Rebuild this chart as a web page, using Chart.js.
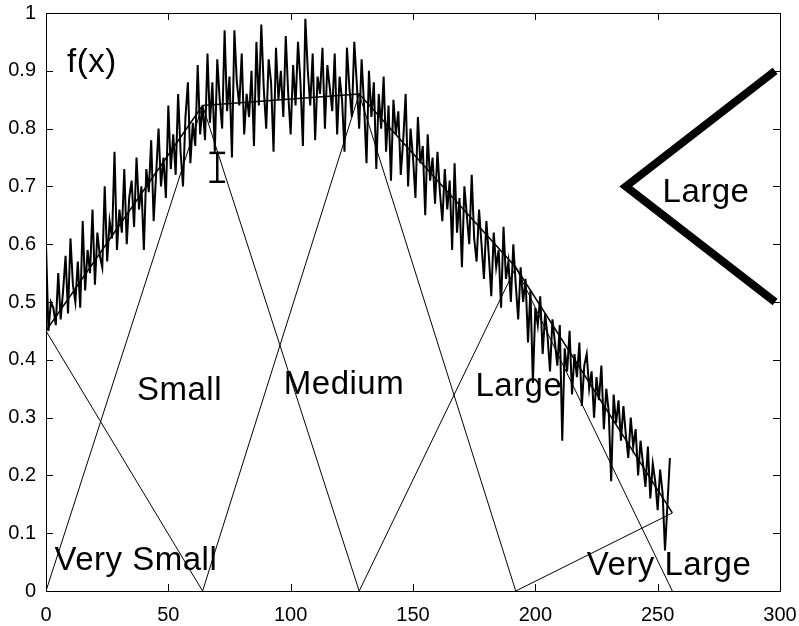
<!DOCTYPE html>
<html lang="en">
<head>
    <meta charset="UTF-8">
    <title>f(x) fuzzy approximation</title>
    <script src="https://cdn.jsdelivr.net/npm/chart.js@4.4.0/dist/chart.umd.min.js"></script>
    <style>
        body { margin: 0; background: #fff; }
        #wrap { width: 799px; height: 626px; }
    </style>
</head>
<body>
    <div id="wrap"><canvas id="fx" width="799" height="626"></canvas></div>

    <script>
        // noisy samples f(x), x = 0..255
        const noiseY = [
            0.60, 0.45, 0.50, 0.49, 0.46, 0.55, 0.47, 0.52, 0.58, 0.48, 0.61, 0.53, 0.50, 0.57, 0.49, 0.64,
            0.52, 0.59, 0.55, 0.66, 0.53, 0.62, 0.58, 0.56, 0.70, 0.57, 0.64, 0.61, 0.76, 0.59, 0.66, 0.62,
            0.73, 0.60, 0.68, 0.71, 0.63, 0.75, 0.66, 0.70, 0.59, 0.73, 0.69, 0.78, 0.64, 0.72, 0.80, 0.70,
            0.75, 0.68, 0.84, 0.73, 0.79, 0.72, 0.86, 0.76, 0.70, 0.82, 0.88, 0.74, 0.81, 0.77, 0.91, 0.79,
            0.84, 0.78, 0.93, 0.81, 0.88, 0.76, 0.92, 0.85, 0.80, 0.97, 0.83, 0.89, 0.75, 0.97, 0.88, 0.84,
            0.93, 0.79, 0.86, 0.82, 0.90, 0.77, 0.95, 0.84, 0.98, 0.87, 0.80, 0.92, 0.88, 0.76, 0.94, 0.85,
            0.90, 0.82, 0.96, 0.86, 0.79, 0.91, 0.84, 0.95, 0.88, 0.77, 0.99, 0.90, 0.84, 0.93, 0.78, 0.89,
            0.86, 0.94, 0.80, 0.91, 0.87, 0.83, 0.93, 0.79, 0.89, 0.85, 0.76, 0.94, 0.87, 0.82, 0.95, 0.88,
            0.80, 0.92, 0.84, 0.74, 0.90, 0.82, 0.88, 0.73, 0.86, 0.80, 0.89, 0.76, 0.84, 0.71, 0.85, 0.79,
            0.83, 0.72, 0.78, 0.86, 0.70, 0.80, 0.75, 0.68, 0.82, 0.74, 0.77, 0.65, 0.79, 0.71, 0.75, 0.67,
            0.76, 0.69, 0.64, 0.73, 0.66, 0.71, 0.59, 0.74, 0.62, 0.68, 0.56, 0.70, 0.65, 0.60, 0.72, 0.61,
            0.57, 0.66, 0.60, 0.54, 0.64, 0.58, 0.51, 0.62, 0.56, 0.59, 0.49, 0.63, 0.54, 0.57, 0.50, 0.60,
            0.53, 0.47, 0.56, 0.50, 0.54, 0.43, 0.52, 0.36, 0.49, 0.46, 0.51, 0.41, 0.48, 0.44, 0.38, 0.47,
            0.43, 0.39, 0.46, 0.26, 0.42, 0.38, 0.45, 0.34, 0.41, 0.37, 0.43, 0.32, 0.39, 0.41, 0.35, 0.38,
            0.30, 0.37, 0.33, 0.39, 0.28, 0.35, 0.31, 0.19, 0.34, 0.29, 0.33, 0.26, 0.32, 0.27, 0.23, 0.30,
            0.25, 0.28, 0.20, 0.26, 0.22, 0.18, 0.25, 0.16, 0.22, 0.19, 0.14, 0.21, 0.17, 0.07, 0.15, 0.23
        ];

        // membership triangles (scaled)
        const verySmallX = [0, 64],          verySmallY = [0.45, 0];
        const smallX     = [0, 64, 128],     smallY     = [0, 0.84, 0];
        const mediumX    = [64, 128, 192],   mediumY    = [0, 0.86, 0];
        const largeX     = [128, 192, 256],  largeY     = [0, 0.56, 0];
        const veryLargeX = [192, 256],       veryLargeY = [0, 0.135];

        // piecewise approximation through the peaks
        const approxX = [0, 64, 128, 192, 256];
        const approxY = [0.45, 0.84, 0.86, 0.56, 0.135];

        // thick "Large" legend wedge
        const wedgeX = [298, 237, 298];
        const wedgeY = [0.9, 0.7, 0.5];

        // error bar marker
        const errX = 70, errLo = 0.708, errHi = 0.758, errHalf = 3.2;

        // labels
        const labelText = ['f(x)', 'Small', 'Medium', 'Large', 'Very Small', 'Very Large', 'Large'];
        const labelX    = [8.6, 37.2, 97.2, 175.5, 3.5, 221, 252];
        const labelY    = [0.898, 0.331, 0.341, 0.338, 0.037, 0.0285, 0.673];

        // ticks
        const xTicks = [0, 50, 100, 150, 200, 250, 300];
        const yTickLabels = ['0', '0.1', '0.2', '0.3', '0.4', '0.5', '0.6', '0.7', '0.8', '0.9', '1'];

        function pts(xs, ys) {
            return xs.map((x, i) => ({ x: x, y: ys[i] }));
        }

        function line(data, width) {
            return {
                data: data,
                showLine: true,
                borderColor: '#000',
                borderWidth: width,
                pointRadius: 0,
                tension: 0,
                fill: false
            };
        }

        const frame = {
            id: 'frame',
            afterDatasetsDraw(chart) {
                const ctx = chart.ctx;
                const a = chart.chartArea;
                const xs = chart.scales.x, ys = chart.scales.y;
                const tl = 7;
                ctx.save();
                ctx.strokeStyle = '#000';
                ctx.lineWidth = 1;
                ctx.strokeRect(a.left + 0.5, a.top + 0.5, a.right - a.left, a.bottom - a.top);
                ctx.beginPath();
                xTicks.forEach(v => {
                    const px = Math.round(xs.getPixelForValue(v)) + 0.5;
                    ctx.moveTo(px, a.bottom); ctx.lineTo(px, a.bottom - tl);
                    ctx.moveTo(px, a.top); ctx.lineTo(px, a.top + tl);
                });
                yTickLabels.forEach((t, i) => {
                    const py = Math.round(ys.getPixelForValue(i / 10)) + 0.5;
                    ctx.moveTo(a.left, py); ctx.lineTo(a.left + tl, py);
                    ctx.moveTo(a.right, py); ctx.lineTo(a.right - tl, py);
                });
                ctx.stroke();

                ctx.fillStyle = '#000';
                ctx.font = '33px "Liberation Sans", Arial, sans-serif';
                ctx.letterSpacing = '0.5px';
                ctx.textAlign = 'left';
                ctx.textBaseline = 'alphabetic';
                labelText.forEach((t, i) => {
                    ctx.fillText(t, xs.getPixelForValue(labelX[i]), ys.getPixelForValue(labelY[i]));
                });
                ctx.restore();
            }
        };

        const datasets = [
            line(noiseY.map((y, i) => ({ x: i, y: y })), 2),
            line(pts(verySmallX, verySmallY), 1),
            line(pts(smallX, smallY), 1),
            line(pts(mediumX, mediumY), 1),
            line(pts(largeX, largeY), 1),
            line(pts(veryLargeX, veryLargeY), 1),
            line(pts(approxX, approxY), 1.5),
            line(pts(wedgeX, wedgeY), 8),
            line(pts([errX, errX], [errLo, errHi]), 2.5),
            line(pts([errX - errHalf, errX + errHalf], [errLo, errLo]), 2.5),
            line(pts([errX - errHalf, errX + errHalf], [errHi, errHi]), 2.5)
        ];

        new Chart(document.getElementById('fx'), {
            type: 'scatter',
            data: { datasets: datasets },
            plugins: [frame],
            options: {
                responsive: false,
                animation: false,
                layout: { padding: { top: 13, right: 19, left: 0, bottom: 0 } },
                plugins: { legend: { display: false }, tooltip: { enabled: false } },
                scales: {
                    x: {
                        type: 'linear', min: 0, max: 300,
                        afterFit(s) {
                            s.height = 35;
                            s.paddingLeft = 0; s.paddingRight = 0;
                        },
                        afterBuildTicks(s) { s.ticks = xTicks.map(v => ({ value: v })); },
                        grid: { display: false, drawTicks: false },
                        border: { display: false },
                        ticks: { color: '#000', padding: 12, maxRotation: 0,
                                 font: { family: '"Liberation Sans", Arial', size: 20 } }
                    },
                    y: {
                        type: 'linear', min: 0, max: 1,
                        afterFit(s) {
                            s.width = 46;
                            s.paddingTop = 0; s.paddingBottom = 0;
                        },
                        afterBuildTicks(s) { s.ticks = yTickLabels.map((t, i) => ({ value: i / 10 })); },
                        grid: { display: false, drawTicks: false },
                        border: { display: false },
                        ticks: { color: '#000', padding: 10,
                                 font: { family: '"Liberation Sans", Arial', size: 20 },
                                 callback: (v, i) => yTickLabels[i] }
                    }
                }
            }
        });
    </script>
</body>
</html>
